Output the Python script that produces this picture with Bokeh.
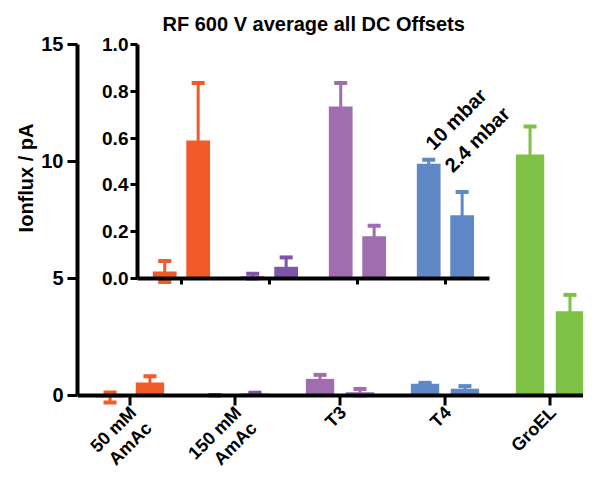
import math
from bokeh.plotting import figure
from bokeh.models import Range1d, LinearAxis, FixedTicker, PrintfTickFormatter, Span, Title
from bokeh.core.properties import value
from bokeh.embed import file_html
from bokeh.resources import INLINE

# ---------------- data ----------------
categories = ["50 mM\nAmAc", "150 mM\nAmAc", "T3", "T4", "GroEL"]
colors = ["#F15A29", "#7E55A8", "#A06DB0", "#5E88C6", "#7DC244"]

main_10mbar = [-0.085, 0.01, 0.71, 0.50, 10.3]
main_10mbar_err = [0.215, 0.01, 0.17, 0.04, 1.2]
main_24mbar = [0.55, 0.08, 0.14, 0.29, 3.6]
main_24mbar_err = [0.27, 0.04, 0.14, 0.11, 0.7]

inset_10mbar = [0.03, 0.01, 0.735, 0.49]
inset_10mbar_err = [0.045, 0.01, 0.10, 0.017]
inset_24mbar = [0.59, 0.05, 0.18, 0.27]
inset_24mbar_err = [0.245, 0.04, 0.045, 0.10]

series_labels = ["10 mbar", "2.4 mbar"]
main_yticks = [0, 5, 10, 15]
inset_yticks = [0.0, 0.2, 0.4, 0.6, 0.8, 1.0]
title_text = "RF 600 V average all DC Offsets"
y_label = "Ionflux / pA"

# ---------------- layout / style ----------------
FONT = "Liberation Sans"
W, H = 583, 475
BL, BT = 77, 33
X_END = 4.819
Y_START, Y_END = -3.42, 15.47
# inset placement in main data units
INSET_X0, INSET_XS = 0.571, 0.838   # main_x = X0 + XS * inset_x
INSET_Y0, INSET_YS = 5.0, 10.0      # main_y = Y0 + YS * inset_y
BAR_W, DODGE = 0.27, 0.19

p = figure(width=W, height=H, output_backend="svg", toolbar_location=None,
           x_range=Range1d(0, X_END), y_range=Range1d(Y_START, Y_END),
           min_border_left=BL, min_border_top=BT, min_border_bottom=0,
           min_border_right=0)
p.extra_x_ranges = {"inset_x": Range1d((0 - INSET_X0) / INSET_XS, (X_END - INSET_X0) / INSET_XS)}
p.extra_y_ranges = {"inset_y": Range1d((Y_START - INSET_Y0) / INSET_YS, (Y_END - INSET_Y0) / INSET_YS)}
p.xgrid.visible = False
p.ygrid.visible = False
p.outline_line_color = None
p.background_fill_color = "white"
p.border_fill_color = "white"

p.title.text = title_text
p.title.align = "left"
p.title.offset = 85
p.title.standoff = -2
p.title.text_font = FONT
p.title.text_font_size = "20px"
p.title.text_font_style = "bold"
p.title.text_color = "black"

p.add_layout(Title(text=y_label, align="right", offset=90, standoff=4,
                   text_font=FONT, text_font_size="20px", text_font_style="bold",
                   text_color="black"),
             "left")


def style_axis(ax, tick_out, font_size):
    ax.axis_line_width = 4
    ax.axis_line_color = "black"
    ax.major_tick_line_width = 3
    ax.major_tick_line_color = "black"
    ax.major_tick_out = tick_out
    ax.major_tick_in = 0
    ax.minor_tick_line_color = None
    ax.major_label_text_font = FONT
    ax.major_label_text_font_style = "bold"
    ax.major_label_text_font_size = font_size
    ax.major_label_text_color = "black"


# main y axis
yax = p.yaxis[0]
yax.ticker = FixedTicker(ticks=main_yticks)
yax.bounds = (0, 15)
style_axis(yax, 10, "20px")
yax.major_label_standoff = 4

# main x axis drawn inside the frame: baseline, ticks, rotated labels
p.xaxis.visible = False
n = len(categories)
centers = [i + 0.5 for i in range(n)]
p.add_layout(Span(location=0, dimension="width", line_color="black", line_width=4))
p.ray(x=centers, y=[0] * n, length=10, length_units="screen", angle=-math.pi / 2,
      line_color="black", line_width=3)
p.text(x=centers, y=[0] * n, text=categories, angle=math.pi / 4,
       x_offset=-4, y_offset=7, text_align="right", text_baseline="top",
       text_font=value(FONT), text_font_style="bold", text_font_size="18px",
       text_line_height=1.1, text_color="black")

# inset axes
m = len(inset_10mbar)
icenters = [i + 0.5 for i in range(m)]
iy = LinearAxis(x_range_name="inset_x", y_range_name="inset_y", fixed_location=0,
                bounds=(0, 1), ticker=FixedTicker(ticks=inset_yticks),
                formatter=PrintfTickFormatter(format="%.1f"))
style_axis(iy, 7, "19px")
iy.major_label_standoff = 2
p.add_layout(iy, "left")

ix = LinearAxis(x_range_name="inset_x", y_range_name="inset_y", fixed_location=0,
                bounds=(0, m), ticker=FixedTicker(ticks=icenters))
style_axis(ix, 6, "19px")
ix.major_label_text_color = None
p.add_layout(ix, "below")


def errbars(xs, vals, errs, cols, xr, yr):
    lo = [v - e for v, e in zip(vals, errs)]
    hi = [v + e for v, e in zip(vals, errs)]
    p.segment(x0=xs, y0=lo, x1=xs, y1=hi, line_color=cols, line_width=3,
              x_range_name=xr, y_range_name=yr)
    p.rect(x=xs + xs, y=hi + lo, width=13, height=4, width_units="screen",
           height_units="screen", fill_color=cols + cols, line_color=None,
           x_range_name=xr, y_range_name=yr)


def bars(xs, vals, cols, xr, yr):
    p.vbar(x=xs, top=vals, bottom=0, width=BAR_W, fill_color=cols, line_color=None,
           x_range_name=xr, y_range_name=yr)


# main bars
mx1 = [c - DODGE for c in centers]
mx2 = [c + DODGE for c in centers]
errbars(mx1, main_10mbar, main_10mbar_err, colors, "default", "default")
errbars(mx2, main_24mbar, main_24mbar_err, colors, "default", "default")
bars(mx1, main_10mbar, colors, "default", "default")
bars(mx2, main_24mbar, colors, "default", "default")

# inset bars
icol = colors[:m]
ix1 = [c - DODGE for c in icenters]
ix2 = [c + DODGE for c in icenters]
errbars(ix1, inset_10mbar, inset_10mbar_err, icol, "inset_x", "inset_y")
errbars(ix2, inset_24mbar, inset_24mbar_err, icol, "inset_x", "inset_y")
bars(ix1, inset_10mbar, icol, "inset_x", "inset_y")
bars(ix2, inset_24mbar, icol, "inset_x", "inset_y")

# series labels inside inset (above T4 bars)
label_x = [3.31, 3.53]
label_y = [0.565, 0.47]
p.text(x=label_x, y=label_y, text=series_labels, angle=math.pi / 4,
       text_font=value(FONT), text_font_style="bold", text_font_size="20px",
       text_align="left", text_baseline="alphabetic", text_color="black",
       x_range_name="inset_x", y_range_name="inset_y")

open("out.html", "w").write(file_html(p, INLINE))
